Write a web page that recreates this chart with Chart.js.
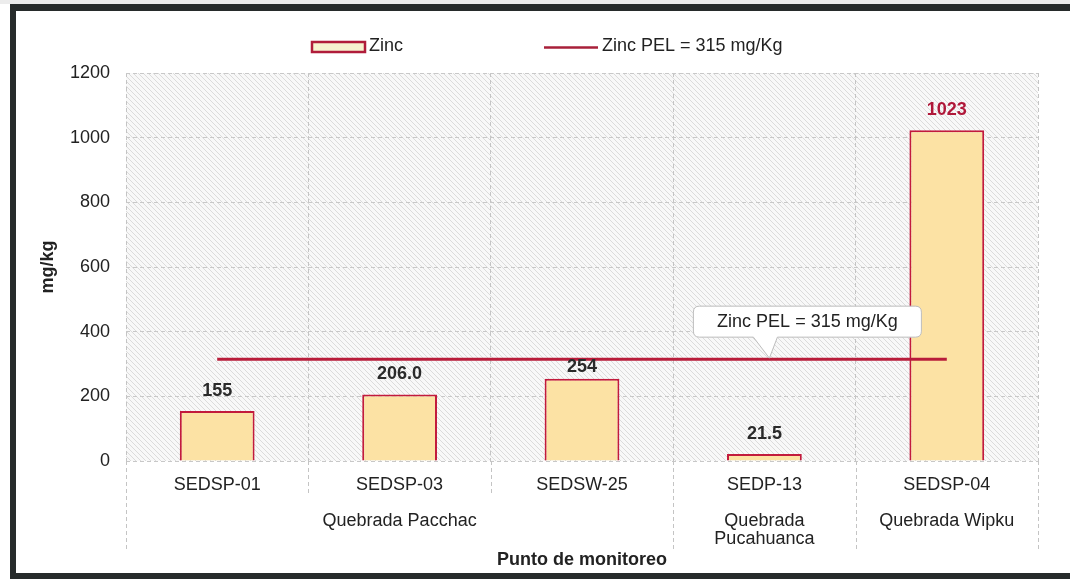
<!DOCTYPE html>
<html>
<head>
<meta charset="utf-8">
<script src="https://cdn.jsdelivr.net/npm/chart.js@4.4.1/dist/chart.umd.min.js"></script>
<style>
  html, body { margin: 0; padding: 0; background: #ffffff; overflow: hidden; }
  #wrap { position: relative; width: 1070px; height: 579px; }
  #strip { position: absolute; left: 0; top: 0; width: 1070px; height: 4px; background: #ececec; }
  #frame { position: absolute; left: 10px; top: 4px; width: 1080px; height: 562px;
           border-top: 7px solid #272b2b; border-left: 6px solid #272b2b; border-bottom: 7px solid #272b2b; }
  #c { position: absolute; left: 0; top: 0; }
</style>
</head>
<body>
<div id="wrap">
  <div id="strip"></div>
  <div id="frame"></div>
  <canvas id="c" width="1070" height="579"></canvas>
</div>
<script>
// ---- data ----
const stations = ['SEDSP-01', 'SEDSP-03', 'SEDSW-25', 'SEDP-13', 'SEDSP-04'];
const groups = ['Quebrada Pacchac', 'Quebrada Pacchac', 'Quebrada Pacchac', 'Quebrada Pucahuanca', 'Quebrada Wipku'];
const tickLabels = [
  ['SEDSP-01'],
  ['SEDSP-03', '', 'Quebrada Pacchac'],
  ['SEDSW-25'],
  ['SEDP-13', '', 'Quebrada', 'Pucahuanca'],
  ['SEDSP-04', '', 'Quebrada Wipku']
];
const zincValues = [155, 206.0, 254, 21.5, 1023];
const zincLabels = ['155', '206.0', '254', '21.5', '1023'];
const pelValue = 315;
const pelValues = [315, 315, 315, 315, 315];
const yTicks = [0, 200, 400, 600, 800, 1000, 1200];
const seriesNames = ['Zinc', 'Zinc PEL = 315 mg/Kg'];

const FONT = "'Liberation Sans', Arial, Helvetica, sans-serif";
Chart.defaults.font.family = FONT;
Chart.defaults.color = '#222222';

const RED = '#C21A3C';
const LINE_RED = '#B81C3A';
const BAR_FILL = '#FCE2A4';

// hatch pattern for plot background
function makeHatch() {
  const p = document.createElement('canvas');
  p.width = 5; p.height = 5;
  const g = p.getContext('2d');
  g.fillStyle = '#f8f8f8';
  g.fillRect(0, 0, 5, 5);
  g.strokeStyle = 'rgba(160,160,160,0.32)';
  g.lineWidth = 1;
  g.beginPath();
  g.moveTo(-1, -1); g.lineTo(6, 6);
  g.moveTo(-1, 4); g.lineTo(1, 6);
  g.moveTo(4, -1); g.lineTo(6, 1);
  g.stroke();
  return p;
}

const bgPlugin = {
  id: 'bgHatch',
  beforeDraw(chart) {
    const {ctx, chartArea: a} = chart;
    ctx.save();
    ctx.fillStyle = ctx.createPattern(makeHatch(), 'repeat');
    ctx.fillRect(a.left, a.top, a.right - a.left, a.bottom - a.top);
    ctx.restore();
  }
};

const extrasPlugin = {
  id: 'extras',
  afterDraw(chart) {
    const {ctx, chartArea: a} = chart;
    const xs = chart.scales.x, ys = chart.scales.y;
    ctx.save();
    // category separators extended below plot
    const n = stations.length;
    const half = (xs.getPixelForValue(1) - xs.getPixelForValue(0)) / 2;
    ctx.strokeStyle = '#c4c4c4';
    ctx.lineWidth = 1;
    ctx.setLineDash([4, 3]);
    for (let i = 0; i <= n; i++) {
      const x = Math.round((i < n ? xs.getPixelForValue(i) - half : xs.getPixelForValue(n - 1) + half)) + 0.5;
      const longLine = (i === 0 || i === n || groups[i] !== groups[i - 1]);
      ctx.beginPath();
      ctx.moveTo(x, a.bottom);
      ctx.lineTo(x, a.bottom + (longLine ? 89 : 34));
      ctx.stroke();
    }
    ctx.setLineDash([]);

    // legend
    const ly = 47;
    ctx.fillStyle = '#F6F2CF';
    ctx.fillRect(312, ly - 5, 53, 10);
    ctx.strokeStyle = '#B01C3A';
    ctx.lineWidth = 2.5;
    ctx.strokeRect(312, ly - 5, 53, 10);
    ctx.fillStyle = '#222';
    ctx.font = "18px " + FONT;
    ctx.textBaseline = 'middle';
    ctx.textAlign = 'left';
    ctx.fillText(seriesNames[0], 369, ly - 1);
    ctx.strokeStyle = '#A8203A';
    ctx.lineWidth = 2.5;
    ctx.beginPath();
    ctx.moveTo(544, ly + 0.5); ctx.lineTo(598, ly + 0.5);
    ctx.stroke();
    ctx.fillText(seriesNames[1], 602, ly - 1);

    // callout
    const ax = xs.getPixelForValue(3) + 5;
    const ay = ys.getPixelForValue(pelValue);
    const bl = ax - 76, bt = ay - 53, bw = 228, bh = 31, r = 6;
    ctx.beginPath();
    ctx.moveTo(bl + r, bt);
    ctx.lineTo(bl + bw - r, bt);
    ctx.quadraticCurveTo(bl + bw, bt, bl + bw, bt + r);
    ctx.lineTo(bl + bw, bt + bh - r);
    ctx.quadraticCurveTo(bl + bw, bt + bh, bl + bw - r, bt + bh);
    ctx.lineTo(ax + 8, bt + bh);
    ctx.lineTo(ax, ay - 1);
    ctx.lineTo(ax - 16, bt + bh);
    ctx.lineTo(bl + r, bt + bh);
    ctx.quadraticCurveTo(bl, bt + bh, bl, bt + bh - r);
    ctx.lineTo(bl, bt + r);
    ctx.quadraticCurveTo(bl, bt, bl + r, bt);
    ctx.closePath();
    ctx.fillStyle = '#ffffff';
    ctx.fill();
    ctx.strokeStyle = '#bdbdbd';
    ctx.lineWidth = 1;
    ctx.stroke();
    ctx.fillStyle = '#222';
    ctx.textAlign = 'center';
    ctx.fillText(seriesNames[1], bl + bw / 2, bt + bh / 2);

    // data labels (pushed just below the PEL line if they would sit on it)
    const meta = chart.getDatasetMeta(0);
    ctx.font = "bold 18px " + FONT;
    ctx.textAlign = 'center';
    ctx.textBaseline = 'middle';
    meta.data.forEach((bar, i) => {
      let y = bar.y - 20;
      if (Math.abs(y - ay) < 9) y = ay + 8;
      ctx.fillStyle = zincValues[i] > pelValue ? '#B0183A' : '#2a2a2a';
      ctx.fillText(zincLabels[i], bar.x, y);
    });
    ctx.restore();
  }
};

new Chart(document.getElementById('c'), {
  type: 'bar',
  data: {
    labels: tickLabels,
    datasets: [
      {
        type: 'bar',
        label: seriesNames[0],
        data: zincValues,
        backgroundColor: BAR_FILL,
        borderColor: RED,
        borderWidth: 2,
        borderSkipped: 'bottom',
        barPercentage: 0.41,
        categoryPercentage: 1.0,
        order: 2
      },
      {
        type: 'line',
        label: seriesNames[1],
        data: pelValues,
        borderColor: LINE_RED,
        borderWidth: 3,
        pointRadius: 0,
        fill: false,
        order: 1
      }
    ]
  },
  options: {
    responsive: false,
    animation: false,
    devicePixelRatio: 1,
    layout: { padding: { top: 73, right: 32, left: 0, bottom: 0 } },
    plugins: { legend: { display: false }, tooltip: { enabled: false } },
    scales: {
      x: {
        offset: true,
        grid: { offset: true, drawTicks: false, color: '#c4c4c4', lineWidth: 1 },
        border: { display: false, dash: [4, 3] },
        ticks: { padding: 15, autoSkip: false, maxRotation: 0, color: '#222',
                 font: { size: 18, lineHeight: 1.0 } },
        title: { display: true, text: 'Punto de monitoreo', color: '#222',
                 font: { size: 18, weight: 'bold' }, padding: { top: 0, bottom: 8 } },
        afterFit(s) { s.height = 118; }
      },
      y: {
        min: 0, max: 1200,
        afterBuildTicks(s) { s.ticks = yTicks.map(v => ({ value: v })); },
        grid: { drawTicks: false, color: '#c8c8c8', lineWidth: 1 },
        border: { display: false, dash: [4, 3] },
        ticks: { padding: 16, color: '#222', font: { size: 18 }, callback: v => String(v) },
        title: { display: true, text: 'mg/kg', color: '#222',
                 font: { size: 18, weight: 'bold' }, padding: { top: 37, bottom: 0 } },
        afterFit(s) { s.width = 126; }
      }
    }
  },
  plugins: [bgPlugin, extrasPlugin]
});
</script>
</body>
</html>
